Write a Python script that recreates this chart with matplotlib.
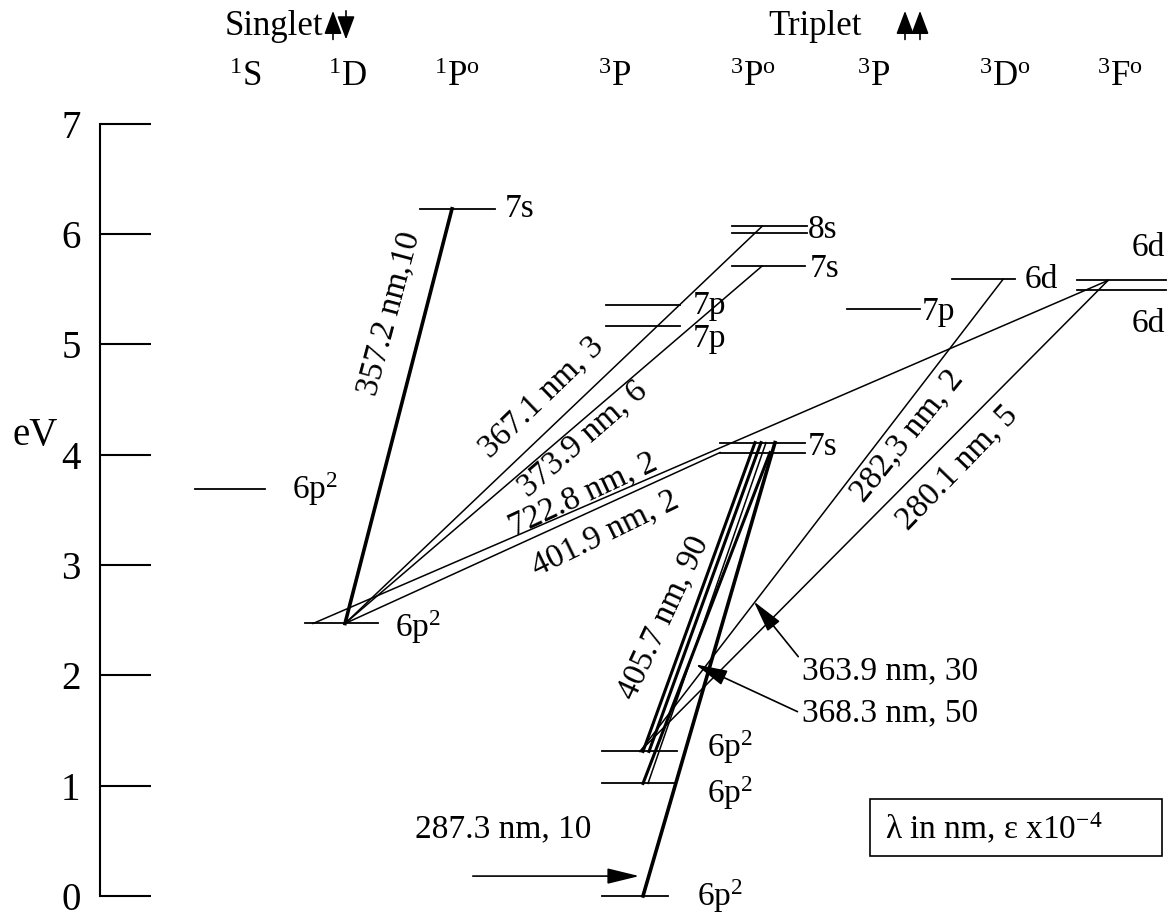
import matplotlib
matplotlib.use('Agg')
import matplotlib.pyplot as plt
from matplotlib.patches import Rectangle

plt.rcParams['font.family'] = ['Liberation Serif', 'DejaVu Serif']
plt.rcParams['mathtext.fontset'] = 'custom'
plt.rcParams['mathtext.rm'] = 'Liberation Serif'
plt.rcParams['mathtext.it'] = 'Liberation Serif:italic'
plt.rcParams['mathtext.default'] = 'rm'

# term columns (header labels)
term_labels = ['$^1$S', '$^1$D', '$^1$P$^{\\rm o}$', '$^3$P', '$^3$P$^{\\rm o}$',
               '$^3$P', '$^3$D$^{\\rm o}$', '$^3$F$^{\\rm o}$']
term_x = [245, 348, 457, 615, 753, 874, 1005, 1120]

# energy levels (eV)
level_names = ['1S_6p2', '1D_6p2', '1P_7s', '3P0', '3P1', '3P2', '7p_a', '7p_b',
               '7s_a', '7s_b', '7s_up', '8s_a', '8s_b', '7p_c', '3D_6d',
               '3F_6d_a', '3F_6d_b']
level_ev = [3.69, 2.47, 6.23, 0.00, 1.02, 1.31, 5.36, 5.17,
            4.11, 4.02, 5.71, 6.07, 6.01, 5.32, 5.59, 5.58, 5.49]
level_text = ['6p$^2$', '6p$^2$', '7s', '6p$^2$', '6p$^2$', '6p$^2$', '7p', '7p',
              '7s', '', '7s', '8s', '', '7p', '6d', '6d', '6d']

# where each level is drawn
level_x0 = [195, 305, 420, 602, 602, 602, 606, 606,
            720, 720, 732, 732, 732, 847, 952, 1077, 1077]
level_x1 = [265, 378, 495, 668, 675, 677, 680, 680,
            805, 805, 805, 807, 807, 920, 1015, 1166, 1166]
label_x = [292, 395, 505, 697, 707, 707, 693, 693,
           808, 808, 810, 808, 808, 922, 1025, 1132, 1132]
label_dy = [0, -0.03, 0, 0.0, -0.09, 0.04, -0.01, -0.12,
            -0.04, 0, -0.02, -0.03, 0, -0.02, 0, 0.30, -0.30]

# transitions: lower level, x at lower, upper level, x at upper, line width
transitions = [
    ('1D_6p2', 345, '1P_7s', 452, 2.6),
    ('1D_6p2', 345, '8s_a', 762, 1.1),
    ('1D_6p2', 345, '7s_up', 762, 1.1),
    ('1D_6p2', 345, '7s_b', 720, 1.1),
    ('1D_6p2', 313, '3F_6d_a', 1108, 1.1),
    ('3P2', 643, '7s_a', 755, 2.2),
    ('3P2', 649, '7s_a', 761, 2.2),
    ('3P1', 643, '7s_b', 770, 2.2),
    ('3P1', 648, '7s_a', 766, 1.1),
    ('3P0', 643, '7s_a', 775, 2.6),
    ('3P2', 640, '3D_6d', 1003, 1.1),
    ('3P2', 640, '3F_6d_a', 1108, 1.1),
]

# transition labels: text, x, eV, rotation
line_labels = [
    ('357.2 nm,10', 389, 5.28, 75),
    ('367.1 nm, 3', 541, 4.52, 44),
    ('373.9 nm, 6', 583, 4.14, 41),
    ('722.8 nm, 2', 583, 3.64, 25),
    ('401.9 nm, 2', 605, 3.29, 26),
    ('405.7 nm, 90', 663, 2.52, 65),
    ('282,3 nm, 2', 907, 4.17, 51),
    ('280.1 nm, 5', 957, 3.88, 46),
]

# pointer labels: text, text x, text eV, tail x, tail eV, tip x, tip eV
pointer_labels = [
    ('287.3 nm, 10', 415, 0.61, 470, 0.18, 642, 0.18),
    ('363.9 nm, 30', 802, 2.04, 800, 2.15, 752, 2.69),
    ('368.3 nm, 50', 802, 1.66, 800, 1.66, 693, 2.11),
]

lev = dict(zip(level_names, level_ev))

fig = plt.figure(figsize=(11.69, 9.18), dpi=100)
ax = fig.add_axes([0, 0, 1, 1])
ax.set_xlim(0, 1169)
ax.set_ylim(-0.2, 918 / 110.3 - 0.2)

# energy axis
for s in ['top', 'right', 'bottom']:
    ax.spines[s].set_visible(False)
ax.spines['left'].set_position(('data', 100))
ax.spines['left'].set_bounds(0, 7)
ax.spines['left'].set_linewidth(1.5)
ax.set_xticks([])
ax.set_yticks(range(8))
ax.tick_params(axis='y', direction='in', length=37, width=1.5, labelsize=28, pad=14)
ax.text(12, 4.17, 'eV', fontsize=28, ha='left', va='center')

# levels
for name, e, x0, x1, t, lx, dy in zip(level_names, level_ev, level_x0, level_x1,
                                      level_text, label_x, label_dy):
    ax.plot([x0, x1], [e, e], color='k', lw=1.3)
    if t:
        ax.text(lx, e + dy, t, fontsize=24, ha='left', va='center')

# transitions
for lo, xl, hi, xh, w in transitions:
    ax.plot([xl, xh], [lev[lo], lev[hi]], color='k', lw=w)

for t, x, e, r in line_labels:
    ax.text(x, e, t, fontsize=24, ha='center', va='center', rotation=r,
            rotation_mode='anchor')

for t, tx, te, x0, e0, x1, e1 in pointer_labels:
    ax.text(tx, te, t, fontsize=24, ha='left', va='center')
    ax.annotate('', xy=(x1, e1), xytext=(x0, e0),
                arrowprops=dict(arrowstyle='-|>,head_length=0.9,head_width=0.22',
                                color='k', lw=1.2, mutation_scale=22))

# headers
ax.text(225, 7.88, 'Singlet', fontsize=25, ha='left', va='center')
ax.text(768, 7.88, 'Triplet', fontsize=25, ha='left', va='center')
for x, up in [(333, True), (346, False), (905, True), (920, True)]:
    a, b = (7.74, 8.05) if up else (8.05, 7.74)
    ax.annotate('', xy=(x, b), xytext=(x, a),
                arrowprops=dict(arrowstyle='-|>,head_length=0.8,head_width=0.3',
                                color='k', lw=1.2, mutation_scale=18))
for t, x in zip(term_labels, term_x):
    ax.text(x, 7.42, t, fontsize=25, ha='center', va='center')

# note box
ax.add_patch(Rectangle((870, 0.36), 292, 0.52, fill=False, lw=1.2, color='k'))
ax.text(885, 0.61, '\u03bb in nm, \u03b5 x10$^{-4}$', fontsize=24, ha='left', va='center')

fig.savefig('out.png', dpi=100)
